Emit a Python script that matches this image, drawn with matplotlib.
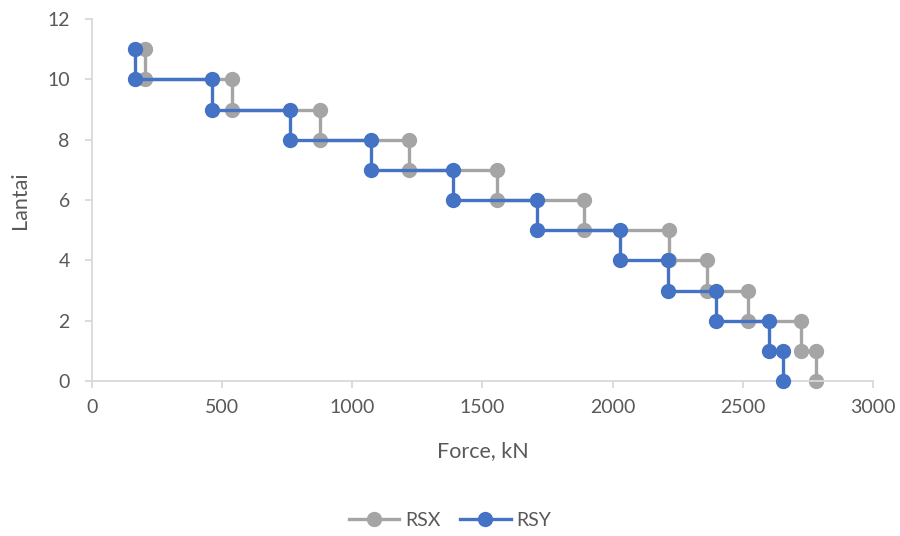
import matplotlib.pyplot as plt
import numpy as np

# storey shear per floor, from top floor (11) down to floor 1
floors = [11, 10, 9, 8, 7, 6, 5, 4, 3, 2, 1]
rsx = [204, 538, 876, 1218, 1556, 1890, 2217, 2363, 2520, 2724, 2781]
rsy = [165, 461, 761, 1072, 1387, 1710, 2028, 2213, 2397, 2601, 2655]

x_ticks = [0, 500, 1000, 1500, 2000, 2500, 3000]
y_ticks = [0, 2, 4, 6, 8, 10, 12]


def step_points(values, levels):
    xs, ys = [], []
    for v, lv in zip(values, levels):
        xs += [v, v]
        ys += [lv, lv - 1]
    return xs, ys


def main():
    plt.rcParams['font.family'] = ['Lato', 'DejaVu Sans']
    txt = '#595959'
    axis_col = '#d9d9d9'

    fig = plt.figure(figsize=(9, 5.36), dpi=100)
    ax = fig.add_axes([92 / 900, 1 - 381 / 536, (873 - 92) / 900, (381 - 19) / 536])

    xs, ys = step_points(rsx, floors)
    ax.plot(xs, ys, color='#a5a5a5', lw=2.4, marker='o', ms=10, label='RSX', zorder=2)
    xs, ys = step_points(rsy, floors)
    ax.plot(xs, ys, color='#4472c4', lw=2.4, marker='o', ms=10, label='RSY', zorder=3)

    ax.set_xlim(0, 3000)
    ax.set_ylim(0, 12)
    ax.set_xticks(x_ticks)
    ax.set_yticks(y_ticks)
    for s in ['top', 'right']:
        ax.spines[s].set_visible(False)
    for s in ['left', 'bottom']:
        ax.spines[s].set_color(axis_col)
        ax.spines[s].set_linewidth(1.3)
    ax.tick_params(colors=axis_col, labelcolor=txt, labelsize=14, length=5, width=1.3)
    ax.tick_params(axis='x', pad=8)
    ax.tick_params(axis='y', pad=11)

    ax.set_xlabel('Force, kN', color=txt, fontsize=15.5, labelpad=18)
    ax.set_ylabel('Lantai', color=txt, fontsize=15.5, labelpad=12)

    for line in ax.get_lines():
        line.set_clip_on(False)

    fig.legend(loc='center', bbox_to_anchor=(0.5, 1 - 520 / 536), ncol=2, frameon=False,
               fontsize=14, labelcolor=txt, handlelength=2.6, columnspacing=1.0, handletextpad=0.3)

    fig.savefig('out.png', dpi=100)


if __name__ == '__main__':
    main()
